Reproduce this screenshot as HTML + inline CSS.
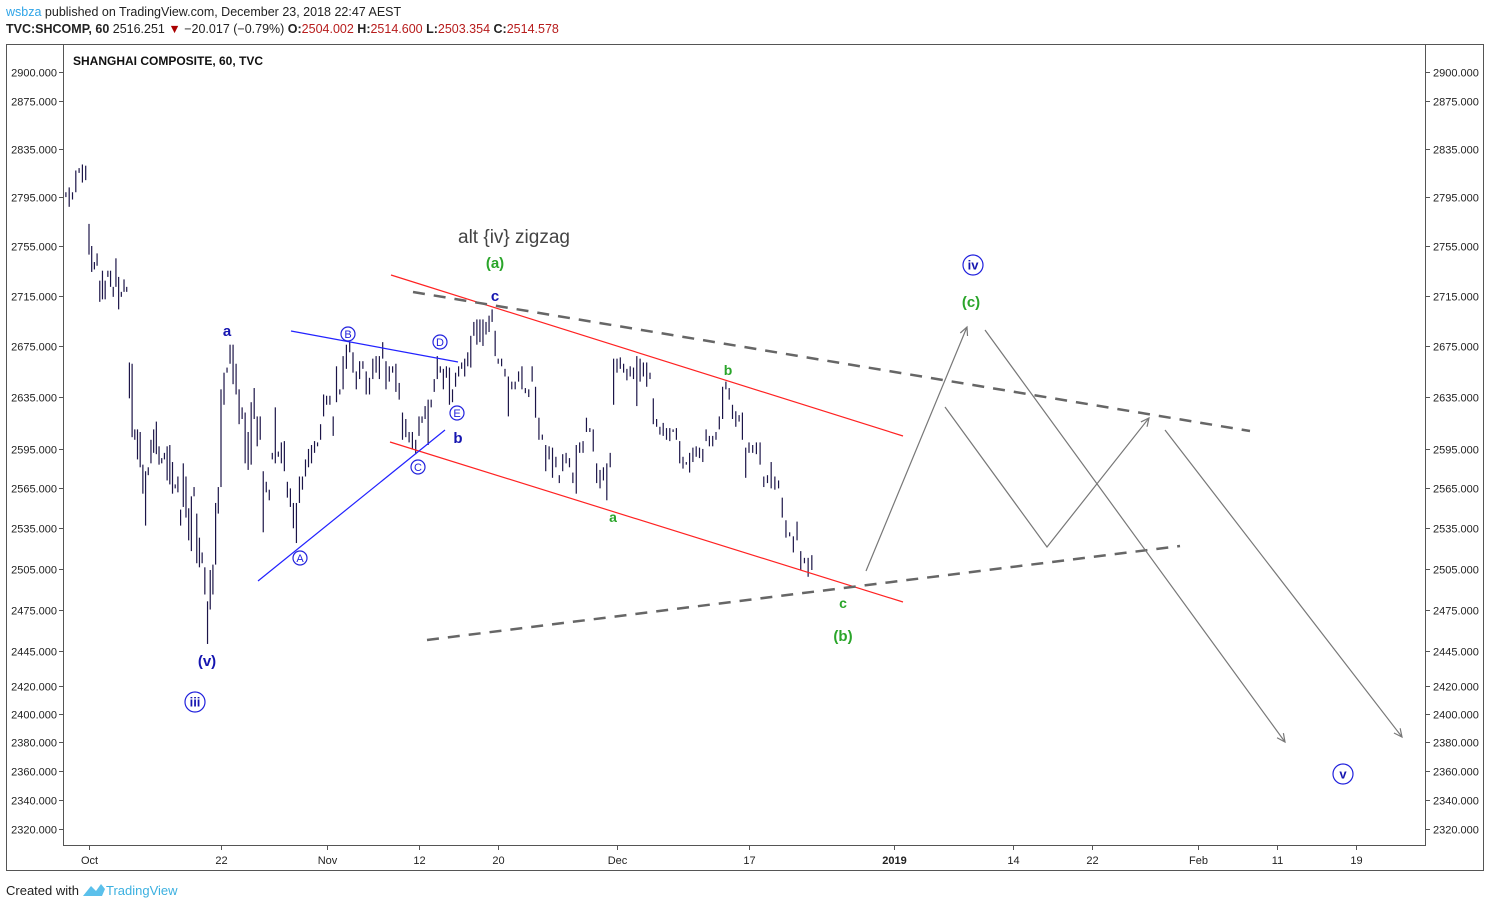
<!DOCTYPE html>
<html><head><meta charset="utf-8">
<style>
html,body{margin:0;padding:0;background:#fff;}
body{width:1490px;height:908px;overflow:hidden;position:relative;font-family:"Liberation Sans",Arial,sans-serif;}
.hdr{position:absolute;left:6px;font-size:12.5px;color:#222;white-space:nowrap;}
</style></head>
<body>
<div class="hdr" style="top:5px"><span style="color:#2fa4e7">wsbza</span> published on TradingView.com, December 23, 2018 22:47 AEST</div>
<div class="hdr" style="top:22px;font-weight:bold">TVC:SHCOMP, 60 <span style="font-weight:normal">2516.251</span> <span style="color:#a00">▼</span> <span style="font-weight:normal">−20.017 (−0.79%)</span> O:<span style="color:#b71c1c;font-weight:normal">2504.002</span> H:<span style="color:#b71c1c;font-weight:normal">2514.600</span> L:<span style="color:#b71c1c;font-weight:normal">2503.354</span> C:<span style="color:#b71c1c;font-weight:normal">2514.578</span></div>
<svg id="chart" width="1490" height="908" style="position:absolute;left:0;top:0" font-family="Liberation Sans, Arial, sans-serif">
<rect x="6.5" y="44.5" width="1477" height="826" fill="none" stroke="#555"/>
<rect x="63.5" y="44.5" width="1362" height="801" fill="none" stroke="#555"/>
<text x="73" y="65" font-size="12" font-weight="bold" fill="#111">SHANGHAI COMPOSITE, 60, TVC</text>
<g id="axes"></g><g id="bars"></g><g id="ann"></g>
<text x="6" y="895" font-size="13" fill="#222">Created with</text>
<path d="M83 896 L91 886 L96 891 L101 884 L105 889 L102 896 Z" fill="#5bc0eb"/>
<text x="106" y="895" font-size="13" fill="#3bb0e0">TradingView</text>
</svg>
<script>
const priceTicks=[2900,2875,2835,2795,2755,2715,2675,2635,2595,2565,2535,2505,2475,2445,2420,2400,2380,2360,2340,2320];
const dateLabels=["Oct","22","Nov","12","20","Dec","17","2019","14","22","Feb","11","19"];
const dateDays=[0,10,18,25,31,40,50,61,70,76,84,90,96];
const barAnchorIdx=[7,56,91,119,145,180,220];
const barAnchorDay=[0,10,18,25,31,40,50];
const highs=[2799,2803,2799,2817,2819,2822,2821,2773,2755,2742,2749,2727,2735,2727,2735,2735,2722,2745,2730,2718,2728,2722,
2662,2661,2610,2610,2608,2583,2578,2581,2602,2610,2616,2597,2588,2592,2597,2598,2585,2568,2574,2549,2584,2574,2550,2559,2566,2546,2528,2517,2506,2481,2504,2508,2554,2566,
2641,2654,2658,2676,2676,2661,2641,2627,2623,2608,2631,2642,2620,2620,2578,2570,2564,2592,2627,2593,2600,2601,2570,2565,2554,2554,2574,2574,2587,2595,2598,2601,2600,2614,
2637,2636,2636,2620,2659,2641,2667,2676,2678,2670,2655,2663,2663,2655,2650,2665,2667,2667,2678,2663,2659,2659,2661,2646,2623,2618,2608,2608,2602,2620,2620,2628,2633,2633,
2649,2667,2659,2657,2659,2658,2641,2654,2659,2662,2665,2670,2683,2694,2696,2696,2696,2694,2699,2704,2687,2665,2665,2657,2651,2647,2647,2655,2659,2642,2641,2659,2643,2619,
2606,2598,2597,2596,2589,2575,2591,2592,2588,2577,2598,2600,2601,2619,2611,2610,2584,2579,2581,2584,2592,2665,2665,2666,2661,2657,2659,2658,2667,2665,2662,2662,2654,2634,
2618,2612,2615,2611,2611,2610,2611,2601,2589,2585,2592,2596,2597,2596,2595,2610,2605,2605,2608,2620,2643,2647,2642,2629,2624,2621,2623,2596,2600,2598,2600,2600,2574,2575,
2585,2574,2571,2558,2541,2532,2529,2540,2518,2513,2513,2515];
const lows=[2795,2787,2793,2799,2815,2807,2809,2748,2734,2736,2739,2710,2712,2712,2730,2722,2714,2722,2704,2714,2718,2718,
2634,2604,2602,2587,2581,2561,2537,2575,2584,2592,2591,2583,2584,2587,2571,2568,2561,2565,2562,2537,2551,2543,2526,2518,2559,2509,2506,2509,2486,2450,2475,2486,2508,2546,
2566,2629,2654,2661,2645,2637,2614,2618,2584,2579,2583,2618,2597,2602,2532,2562,2556,2587,2584,2589,2584,2578,2558,2551,2535,2524,2554,2564,2574,2581,2584,2592,2597,2602,
2620,2629,2629,2605,2631,2637,2641,2657,2670,2654,2641,2649,2657,2637,2637,2649,2654,2649,2665,2641,2647,2654,2639,2633,2602,2604,2600,2595,2591,2605,2615,2618,2598,2627,
2639,2649,2654,2641,2650,2629,2631,2643,2651,2657,2651,2659,2658,2683,2676,2678,2675,2684,2686,2694,2667,2661,2659,2651,2620,2641,2641,2647,2641,2638,2635,2647,2619,2602,
2602,2578,2587,2573,2581,2569,2578,2584,2581,2569,2561,2592,2592,2608,2608,2593,2569,2565,2571,2556,2581,2629,2654,2657,2654,2648,2651,2649,2628,2647,2651,2643,2649,2614,
2612,2606,2605,2602,2601,2608,2602,2584,2580,2583,2577,2585,2589,2588,2585,2601,2597,2597,2602,2610,2618,2641,2633,2618,2612,2616,2602,2573,2592,2592,2591,2583,2566,2569,
2565,2564,2565,2543,2528,2529,2517,2526,2504,2509,2499,2504];

const NS='http://www.w3.org/2000/svg';
function yScale(p){return 72+3392*Math.log(2900/p);}
function xDay(d){return 89+13.2*d;}
function barDay(i){
  const a=barAnchorIdx,d=barAnchorDay,n=a.length;
  if(i<=a[0])return d[0]+(i-a[0])*0.25;
  if(i>=a[n-1])return d[n-1]+(i-a[n-1])*0.28;
  for(let k=0;k<n-1;k++){if(i<=a[k+1]){return d[k]+(i-a[k])*(d[k+1]-d[k])/(a[k+1]-a[k]);}}
}
function mk(tag,attrs,parent){const e=document.createElementNS(NS,tag);for(const k in attrs)e.setAttribute(k,attrs[k]);parent.appendChild(e);return e;}
const axes=document.getElementById('axes');
priceTicks.forEach(p=>{
  const y=Math.round(yScale(p))+0.5;
  let t=mk('line',{x1:59,x2:63,y1:y,y2:y,stroke:'#555'},axes);
  
  
  let l=mk('text',{x:57,y:y+4,'font-size':11,'text-anchor':'end',fill:'#222'},axes);
  l.textContent=p.toFixed(3);
  
  
  let t2=mk('line',{x1:1426,x2:1430,y1:y,y2:y,stroke:'#555'},axes);
  
  
  let r=mk('text',{x:1433,y:y+4,'font-size':11,fill:'#222'},axes);
  r.textContent=p.toFixed(3);
  
  
});
dateLabels.forEach((lab,i)=>{
  const x=Math.round(xDay(dateDays[i]))+0.5;
  let t=mk('line',{x1:x,x2:x,y1:846,y2:850,stroke:'#555'},axes);
  
  
  let l=mk('text',{x:x,y:864,'font-size':11,'text-anchor':'middle',fill:'#222','font-weight':lab==='2019'?'bold':'normal'},axes);
  l.textContent=lab;
  
  
});
const bars=document.getElementById('bars');
highs.forEach((h,i)=>{
  const x=xDay(barDay(i));
  const b=mk('line',{x1:x,x2:x,y1:yScale(h),y2:Math.max(yScale(lows[i]),yScale(h)+1.5),stroke:'#1c1548','stroke-width':1.2},bars);
  
  
});
const ann=document.getElementById('ann');
function line(x1,y1,x2,y2,st,name,extra){const e=mk('line',Object.assign({x1,y1,x2,y2,stroke:st},extra||{}),ann);return e;}
line(391,275,903,436,'#f22','upper-channel-line',{'stroke-width':1.2});
line(390,442,903,602,'#f22','lower-channel-line',{'stroke-width':1.2});
line(291,331,458,362,'#22f','triangle-upper-line',{'stroke-width':1.2});
line(258,581,445,430,'#22f','triangle-lower-line',{'stroke-width':1.2});
line(413,292,1250,431,'#666','upper-dashed-trendline',{'stroke-width':2.5,'stroke-dasharray':'12 9'});
line(427,640,1180,546,'#666','lower-dashed-trendline',{'stroke-width':2.5,'stroke-dasharray':'12 9'});
function arrow(pts,name){
  const p=mk('polyline',{points:pts.map(q=>q.join(',')).join(' '),fill:'none',stroke:'#777','stroke-width':1.2},ann);
  
  
  const a=pts[pts.length-1],b=pts[pts.length-2];
  const ang=Math.atan2(a[1]-b[1],a[0]-b[0]);
  const h=mk('polyline',{points:[[a[0]-9*Math.cos(ang-0.45),a[1]-9*Math.sin(ang-0.45)],a,[a[0]-9*Math.cos(ang+0.45),a[1]-9*Math.sin(ang+0.45)]].map(q=>q.join(',')).join(' '),fill:'none',stroke:'#777','stroke-width':1.2},ann);
  
  
}
arrow([[866,571],[967,327]],'projection-arrow-up');
arrow([[985,330],[1285,742]],'projection-arrow-down');
arrow([[945,407],[1047,547],[1149,418]],'projection-arrow-zigzag');
arrow([[1165,430],[1402,737]],'projection-arrow-down-2');
function txt(x,y,s,col,size,name,bold){const e=mk('text',{x,y,'font-size':size,fill:col,'text-anchor':'middle','font-weight':bold===false?'normal':'bold'},ann);e.textContent=s;return e;}
const BL='#1515b0',GR='#2aa52a';
txt(514,243,'alt {iv} zigzag','#444',19,'alt-iv-zigzag-label',false);
txt(495,268,'(a)',GR,15,'wave-a-paren-label');
txt(495,301,'c',BL,15,'wave-c-label');
txt(227,336,'a',BL,15,'wave-a-label');
txt(207,666,'(v)',BL,15,'wave-v-paren-label');
txt(458,443,'b',BL,15,'wave-b-label');
txt(613,522,'a',GR,14,'green-a-label');
txt(728,375,'b',GR,14,'green-b-label');
txt(843,608,'c',GR,14,'green-c-label');
txt(843,641,'(b)',GR,15,'wave-b-paren-label');
txt(971,307,'(c)',GR,15,'wave-c-paren-label');
function circ(x,y,r,s,size,name,bold){
  const c=mk('circle',{cx:x,cy:y,r:r,fill:'#fff',stroke:'#2222dd','stroke-width':1.2},ann);
  
  
  txt(x,y+size*0.36,s,bold?BL:'#2222dd',size,name,bold);
}
circ(348,334,7,'B',11,'triangle-b-label',false);
circ(440,342,7,'D',11,'triangle-d-label',false);
circ(457,413,7,'E',11,'triangle-e-label',false);
circ(418,467,7,'C',11,'triangle-c-label',false);
circ(300,558,7,'A',11,'triangle-a-label',false);
circ(195,702,10,'iii',13,'wave-iii-label',true);
circ(973,265,10,'iv',13,'wave-iv-label',true);
circ(1343,774,10,'v',13,'wave-v-label',true);
</script>
</body></html>
